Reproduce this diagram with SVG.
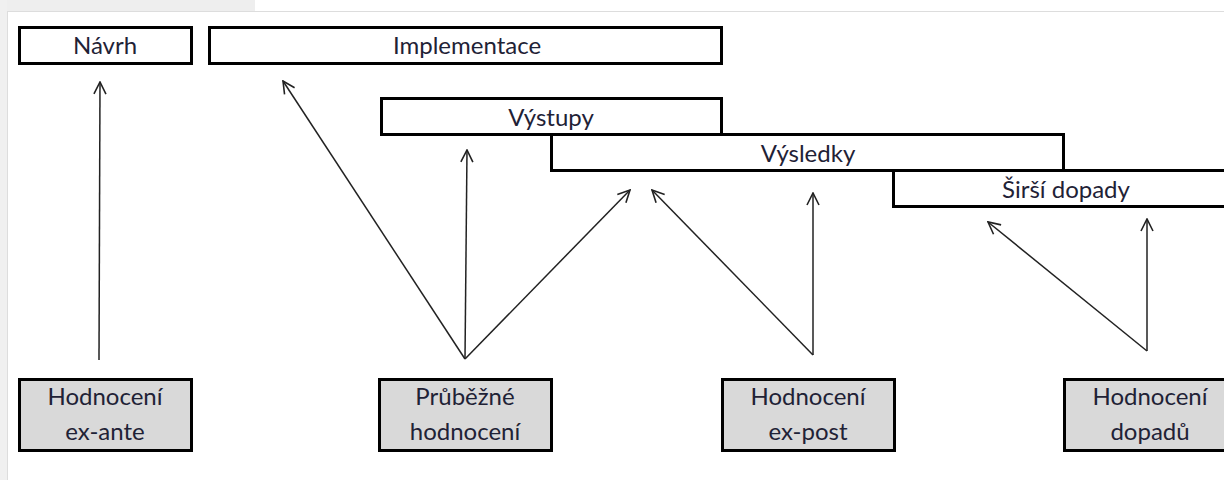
<svg xmlns="http://www.w3.org/2000/svg" width="1224" height="480" viewBox="0 0 1224 480">
<defs>
<style>
.box{fill:#ffffff;stroke:#000;stroke-width:3}
.eval{fill:#d9d9d9;stroke:#000;stroke-width:3}
.t{font-family:Lato,"Open Sans","Liberation Sans",sans-serif;font-size:24px;fill:#1f2236;text-anchor:middle}
.c{stroke:#222;stroke-width:1.5;fill:none;marker-end:url(#ah)}
</style>
<marker id="ah" viewBox="0 0 14 14" refX="13" refY="7" markerWidth="14" markerHeight="14" markerUnits="userSpaceOnUse" orient="auto">
<path d="M1,1 L13,7 L1,13" fill="none" stroke="#222" stroke-width="1.6"/>
</marker>
</defs>
<rect x="0" y="0" width="1224" height="480" fill="#ffffff"/>
<rect x="0" y="0" width="255" height="11" fill="#eeeeee"/>
<rect x="0" y="0" width="7" height="480" fill="#f0f0f0"/>
<rect x="7.5" y="11.5" width="1230" height="480" fill="#ffffff" stroke="#dddddd" stroke-width="1"/>

<g id="navrh"><rect class="box" x="19.5" y="27.5" width="172" height="36"/><text class="t" x="105" y="54">Návrh</text></g>
<g id="implementace"><rect class="box" x="209.5" y="27.5" width="512" height="36"/><text class="t" x="467" y="54">Implementace</text></g>
<g id="vystupy"><rect class="box" x="381.5" y="98.5" width="340" height="36"/><text class="t" x="551" y="126">Výstupy</text></g>
<g id="vysledky"><rect class="box" x="551.5" y="134.5" width="512" height="36"/><text class="t" x="808" y="162">Výsledky</text></g>
<g id="sirsi"><rect class="box" x="893.5" y="170.5" width="345" height="36"/><text class="t" x="1066" y="198">Širší dopady</text></g>

<g id="exante"><rect class="eval" x="19.5" y="379.5" width="172" height="71"/><text class="t" x="105" y="405">Hodnocení</text><text class="t" x="105" y="440">ex-ante</text></g>
<g id="prubezne"><rect class="eval" x="379.5" y="379.5" width="172" height="71"/><text class="t" x="465" y="405">Průběžné</text><text class="t" x="465" y="440">hodnocení</text></g>
<g id="expost"><rect class="eval" x="722.5" y="379.5" width="172" height="71"/><text class="t" x="808" y="405">Hodnocení</text><text class="t" x="808" y="440">ex-post</text></g>
<g id="dopadu"><rect class="eval" x="1064.5" y="379.5" width="180" height="71"/><text class="t" x="1150" y="405">Hodnocení</text><text class="t" x="1150" y="440">dopadů</text></g>

<g id="connectors">
<line class="c" x1="99" y1="360" x2="100" y2="82"/>
<line class="c" x1="465" y1="359" x2="283" y2="81"/>
<line class="c" x1="465" y1="359" x2="467" y2="150"/>
<line class="c" x1="465" y1="359" x2="630" y2="190"/>
<line class="c" x1="813" y1="355" x2="652" y2="190"/>
<line class="c" x1="813" y1="355" x2="813" y2="193"/>
<line class="c" x1="1147" y1="351" x2="988" y2="222"/>
<line class="c" x1="1147" y1="351" x2="1147" y2="219"/>
</g>
</svg>
